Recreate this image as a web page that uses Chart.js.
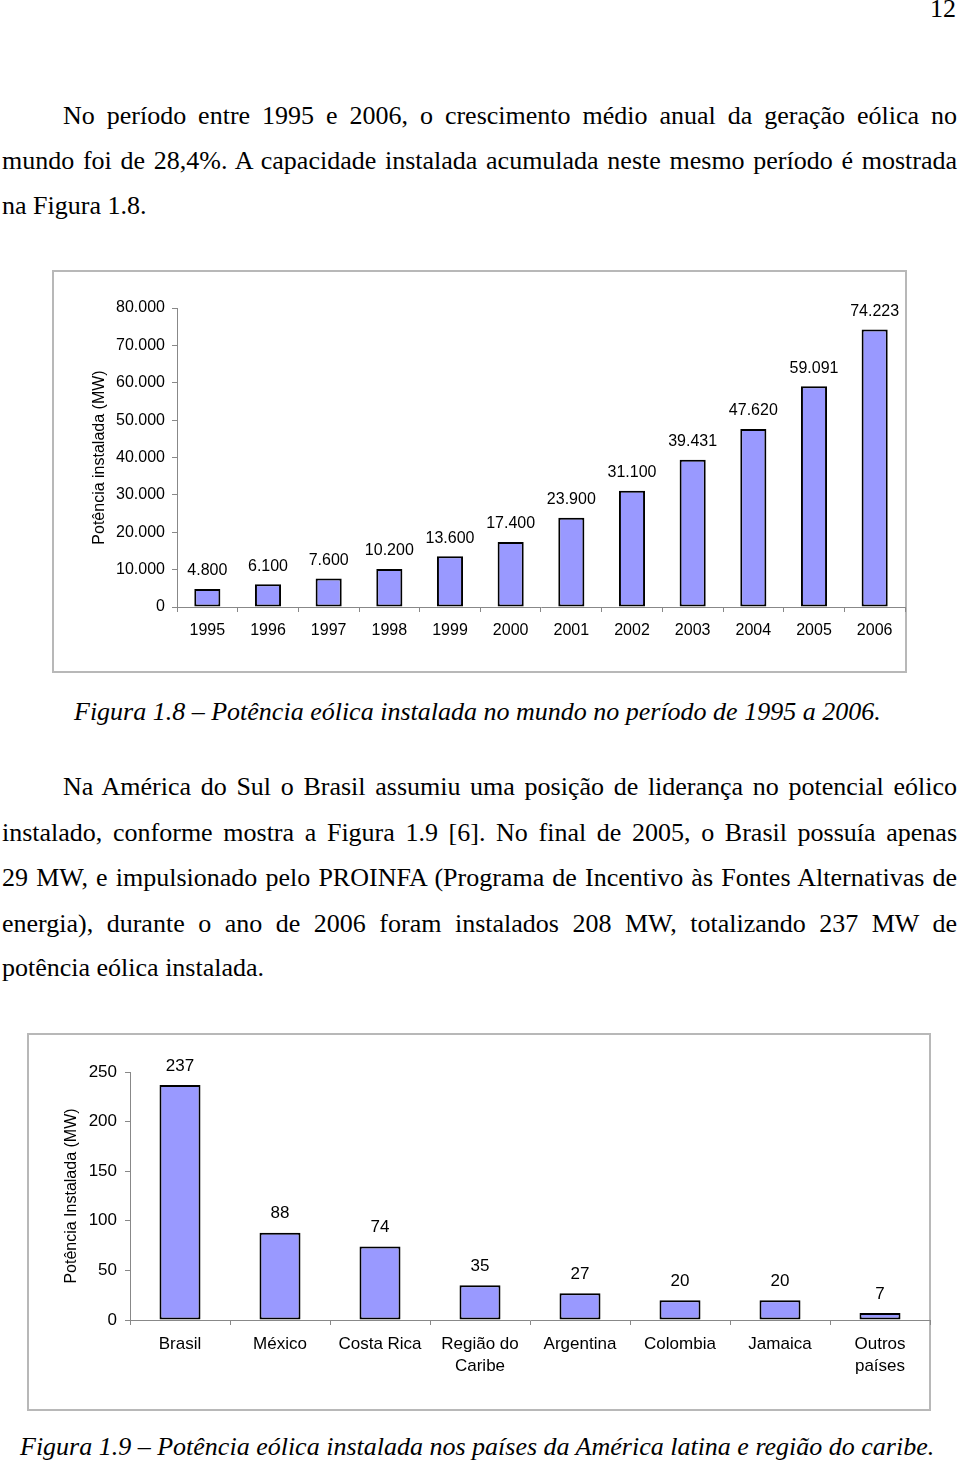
<!DOCTYPE html>
<html><head><meta charset="utf-8">
<script src="https://cdn.jsdelivr.net/npm/chart.js@4.4.1/dist/chart.umd.min.js"></script>
<style>
html,body{margin:0;padding:0;background:#fff;}
body{width:960px;height:1465px;position:relative;overflow:hidden;font-family:"Liberation Serif","Times New Roman",serif;color:#000;}
.ln{position:absolute;font-size:26px;line-height:30px;white-space:nowrap;}
.j{text-align:justify;text-align-last:justify;}
.it{font-style:italic;}
.box{position:absolute;border:2px solid #b8b8b8;box-sizing:border-box;}
canvas.c{position:absolute;}
</style></head><body>
<div class="ln" style="left:920px;top:-6px;width:36px;text-align:right;">12</div>

<div class="ln j" style="left:63px;top:101px;width:894px;">No período entre 1995 e 2006, o crescimento médio anual da geração eólica no</div>
<div class="ln j" style="left:2px;top:146px;width:955px;">mundo foi de 28,4%. A capacidade instalada acumulada neste mesmo período é mostrada</div>
<div class="ln" style="left:2px;top:191px;">na Figura 1.8.</div>

<div class="box" style="left:52px;top:270px;width:855px;height:403px;"></div>
<canvas id="c1" class="c" width="855" height="403" style="left:52px;top:270px;"></canvas>

<div class="ln it" style="left:74px;top:697px;">Figura 1.8 – Potência eólica instalada no mundo no período de 1995 a 2006.</div>

<div class="ln j" style="left:63px;top:772px;width:894px;">Na América do Sul o Brasil assumiu uma posição de liderança no potencial eólico</div>
<div class="ln j" style="left:2px;top:818px;width:955px;">instalado, conforme mostra a Figura 1.9 [6]. No final de 2005, o Brasil possuía apenas</div>
<div class="ln j" style="left:2px;top:863px;width:955px;">29 MW, e impulsionado pelo PROINFA (Programa de Incentivo às Fontes Alternativas de</div>
<div class="ln j" style="left:2px;top:909px;width:955px;">energia), durante o ano de 2006 foram instalados 208 MW, totalizando 237 MW de</div>
<div class="ln" style="left:2px;top:953px;">potência eólica instalada.</div>

<div class="box" style="left:27px;top:1033px;width:904px;height:378px;"></div>
<canvas id="c2" class="c" width="904" height="378" style="left:27px;top:1033px;"></canvas>

<div class="ln it" style="left:20px;top:1432px;">Figura 1.9 – Potência eólica instalada nos países da América latina e região do caribe.</div>

<script>
// ---- data ----
const years = ['1995','1996','1997','1998','1999','2000','2001','2002','2003','2004','2005','2006'];
const worldCapacityMW = [4800, 6100, 7600, 10200, 13600, 17400, 23900, 31100, 39431, 47620, 59091, 74223];
const worldTicks = [0, 10000, 20000, 30000, 40000, 50000, 60000, 70000, 80000];

const countries = ['Brasil', 'México', 'Costa Rica', ['Região do', 'Caribe'], 'Argentina', 'Colombia', 'Jamaica', ['Outros', 'países']];
const latamCapacityMW = [237, 88, 74, 35, 27, 20, 20, 7];
const latamTicks = [0, 50, 100, 150, 200, 250];

// ---- helpers ----
const fmt = v => String(v).replace(/\B(?=(\d{3})+(?!\d))/g, '.');
Chart.defaults.font.family = '"Liberation Sans", Arial, sans-serif';
Chart.defaults.color = '#000';

const valueLabels = {
  id: 'valueLabels',
  afterDatasetsDraw(chart, args, opts) {
    const ctx = chart.ctx;
    const meta = chart.getDatasetMeta(0);
    const data = chart.data.datasets[0].data;
    ctx.save();
    ctx.font = opts.size + 'px "Liberation Sans", Arial, sans-serif';
    ctx.fillStyle = '#000';
    ctx.textAlign = 'center';
    ctx.textBaseline = 'middle';
    meta.data.forEach((bar, i) => ctx.fillText(fmt(data[i]), bar.x, bar.y - opts.offset));
    ctx.restore();
  }
};

function makeChart(id, labels, values, ticksList, cfg) {
  return new Chart(document.getElementById(id), {
    type: 'bar',
    data: { labels, datasets: [{
      data: values,
      backgroundColor: '#9999ff',
      borderColor: '#000',
      borderWidth: 2,
      borderSkipped: false,
      barPercentage: cfg.barPct,
      categoryPercentage: 1
    }]},
    options: {
      responsive: false,
      animation: false,
      events: [],
      layout: { padding: cfg.padding },
      plugins: { legend: { display: false }, tooltip: { enabled: false },
                 valueLabels: { size: cfg.font, offset: cfg.labelOffset } },
      scales: {
        x: {
          grid: { drawOnChartArea: false, drawTicks: true, tickLength: 5, color: '#888', offset: true },
          border: { color: '#888', width: 1 },
          ticks: { font: { size: cfg.font, lineHeight: 1.3 }, padding: cfg.xPad, maxRotation: 0, autoSkip: false },
          afterFit: s => { s.height = cfg.xHeight; }
        },
        y: {
          min: 0, max: ticksList[ticksList.length - 1],
          afterBuildTicks: s => { s.ticks = ticksList.map(v => ({ value: v })); },
          grid: { drawOnChartArea: false, drawTicks: true, tickLength: 5, color: '#888' },
          border: { color: '#888', width: 1 },
          ticks: { font: { size: cfg.font }, padding: cfg.yPad, callback: v => fmt(v) },
          title: { display: true, text: cfg.title, font: { size: 16 }, padding: { top: cfg.titlePad, bottom: 0 } },
          afterFit: s => { s.width = cfg.yWidth; }
        }
      }
    },
    plugins: [valueLabels]
  });
}

makeChart('c1', years, worldCapacityMW, worldTicks, {
  barPct: 0.43, font: 16, labelOffset: 18, xPad: 8, xHeight: 66, yPad: 7, yWidth: 125,
  padding: { top: 38, right: 2, left: 0, bottom: 0 },
  title: 'Potência instalada (MW)', titlePad: 38
});
makeChart('c2', countries, latamCapacityMW, latamTicks, {
  barPct: 0.41, font: 17, labelOffset: 19, xPad: 8, xHeight: 91, yPad: 8, yWidth: 103,
  padding: { top: 39, right: 1, left: 0, bottom: 0 },
  title: 'Potência Instalada (MW)', titlePad: 35
});
</script>
</body></html>
